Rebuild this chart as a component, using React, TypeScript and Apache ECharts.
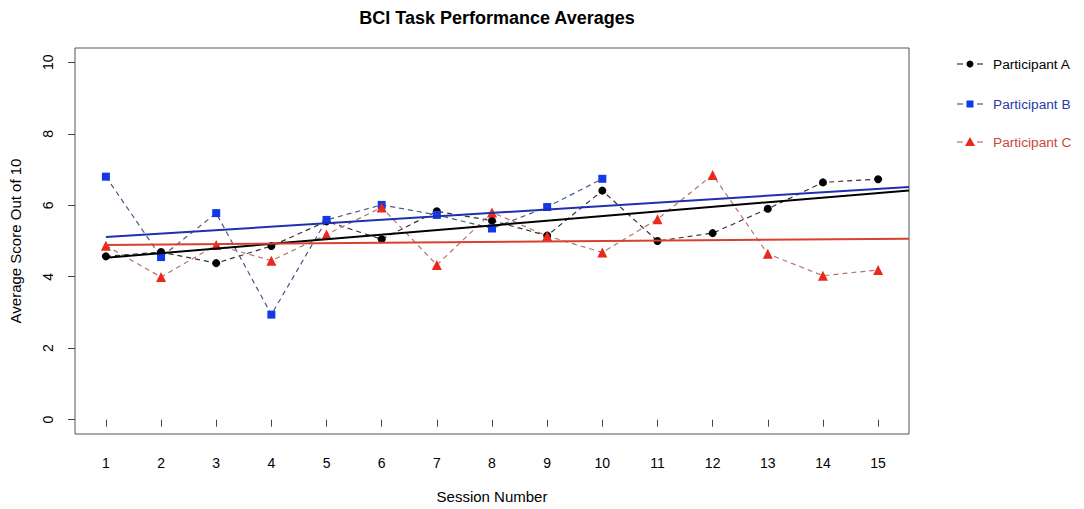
import React, { useEffect, useRef } from "react";
import * as echarts from "echarts";

const sessions = [1, 2, 3, 4, 5, 6, 7, 8, 9, 10, 11, 12, 13, 14, 15];
const participantA = [4.57, 4.69, 4.38, 4.86, 5.55, 5.05, 5.83, 5.57, 5.15, 6.41, 5.0, 5.22, 5.9, 6.64, 6.73];
const participantB = [6.8, 4.55, 5.78, 2.94, 5.59, 6.01, 5.73, 5.35, 5.95, 6.74];
const participantC = [4.87, 3.99, 4.89, 4.45, 5.18, 5.94, 4.33, 5.8, 5.14, 4.68, 5.61, 6.85, 4.64, 4.03, 4.19];
const yTicks = [0, 2, 4, 6, 8, 10];
const seriesNames = ["Participant A", "Participant B", "Participant C"];

const X_MIN = 0.44;
const X_MAX = 15.56;
const Y_MIN = -0.4;
const Y_MAX = 10.4;

function pairs(vals: number[]) {
  return vals.map((v, i) => [sessions[i], v]);
}

// least-squares fitted line drawn from session 1 to the right edge of the plot
function fit(vals: number[]) {
  const xs = sessions.slice(0, vals.length);
  const n = vals.length;
  const mx = xs.reduce((a, b) => a + b, 0) / n;
  const my = vals.reduce((a, b) => a + b, 0) / n;
  let sxy = 0;
  let sxx = 0;
  xs.forEach((x, i) => {
    sxy += (x - mx) * (vals[i] - my);
    sxx += (x - mx) * (x - mx);
  });
  const b = sxy / sxx;
  const a = my - b * mx;
  return [
    [1, a + b * 1],
    [X_MAX, a + b * X_MAX],
  ];
}

const FONT = "'Liberation Sans', Arial, sans-serif";

export default function App() {
  const ref = useRef<HTMLDivElement>(null);
  useEffect(() => {
    document.body.style.margin = "0";
    if (!ref.current) return;
    const chart = echarts.init(ref.current, null, { renderer: "svg" });

    const dataSeries = [
      { name: seriesNames[0], vals: participantA, symbol: "circle", size: 8, mark: "#000000", line: "#333333" },
      { name: seriesNames[1], vals: participantB, symbol: "rect", size: 8, mark: "#1238e8", line: "#4d5686" },
      { name: seriesNames[2], vals: participantC, symbol: "triangle", size: 10, mark: "#e8291c", line: "#b8736e" },
    ];
    const fitColors = ["#000000", "#1e30b0", "#d8402f"];

    const series: any[] = [];
    dataSeries.forEach((s) => {
      series.push({
        name: s.name,
        type: "line",
        data: pairs(s.vals),
        symbol: s.symbol,
        symbolSize: s.size,
        showSymbol: true,
        itemStyle: { color: s.mark },
        lineStyle: { color: s.line, width: 1.2, type: [5, 4] },
        z: 2,
      });
    });
    dataSeries.forEach((s, i) => {
      series.push({
        name: s.name + " fit",
        type: "line",
        data: fit(s.vals),
        symbol: "none",
        lineStyle: { color: fitColors[i], width: 2, type: "solid" },
        z: 3,
      });
    });

    const legendY = [64, 104, 142];
    const legendText = ["#000000", "#2a3aa8", "#c9483d"];
    const legendGraphics: any[] = [];
    dataSeries.forEach((s, i) => {
      const y = legendY[i];
      legendGraphics.push(
        { type: "line", shape: { x1: 957, y1: y, x2: 963, y2: y }, style: { stroke: s.line, lineWidth: 1.2 } },
        { type: "line", shape: { x1: 977, y1: y, x2: 983, y2: y }, style: { stroke: s.line, lineWidth: 1.2 } }
      );
      if (s.symbol === "circle") {
        legendGraphics.push({ type: "circle", shape: { cx: 970, cy: y, r: 3.5 }, style: { fill: s.mark } });
      } else if (s.symbol === "rect") {
        legendGraphics.push({ type: "rect", shape: { x: 966.5, y: y - 3.5, width: 7, height: 7 }, style: { fill: s.mark } });
      } else {
        legendGraphics.push({
          type: "polygon",
          shape: { points: [[970, y - 5], [975, y + 4], [965, y + 4]] },
          style: { fill: s.mark },
        });
      }
      legendGraphics.push({
        type: "text",
        x: 993,
        y: y,
        style: { text: s.name, fill: legendText[i], font: `13.7px ${FONT}`, verticalAlign: "middle", align: "left" },
      });
    });

    chart.setOption({
      animation: false,
      backgroundColor: "#ffffff",
      title: {
        text: "BCI Task Performance Averages",
        left: 492,
        top: 4,
        textAlign: "center",
        textStyle: { fontFamily: FONT, fontSize: 18, fontWeight: "bold", color: "#000" },
      },
      grid: {
        left: 75,
        right: 175,
        top: 48,
        bottom: 75,
        show: true,
        borderColor: "#555555",
        borderWidth: 1,
        containLabel: false,
      },
      xAxis: {
        type: "value",
        min: X_MIN,
        max: X_MAX,
        name: "Session Number",
        nameLocation: "middle",
        nameGap: 55,
        nameTextStyle: { fontFamily: FONT, fontSize: 15, color: "#000" },
        axisLine: { show: false },
        splitLine: { show: false },
        axisTick: { show: true, inside: false, length: 7, customValues: sessions, lineStyle: { color: "#444" } },
        axisLabel: {
          customValues: sessions,
          fontFamily: FONT,
          fontSize: 14,
          color: "#000",
          margin: 22,
          formatter: (v: number) => String(Math.round(v)),
        },
      },
      yAxis: {
        type: "value",
        min: Y_MIN,
        max: Y_MAX,
        name: "Average Score Out of 10",
        nameLocation: "middle",
        nameGap: 52,
        nameTextStyle: { fontFamily: FONT, fontSize: 15, color: "#000" },
        axisLine: { show: false },
        splitLine: { show: false },
        axisTick: { show: true, inside: false, length: 7, customValues: yTicks, lineStyle: { color: "#444" } },
        axisLabel: {
          customValues: yTicks,
          rotate: 90,
          fontFamily: FONT,
          fontSize: 14,
          color: "#000",
          margin: 20,
          formatter: (v: number) => String(Math.round(v)),
        },
      },
      graphic: legendGraphics,
      series,
    });
    return () => chart.dispose();
  }, []);
  return <div ref={ref} style={{ width: 1084, height: 509 }} />;
}
